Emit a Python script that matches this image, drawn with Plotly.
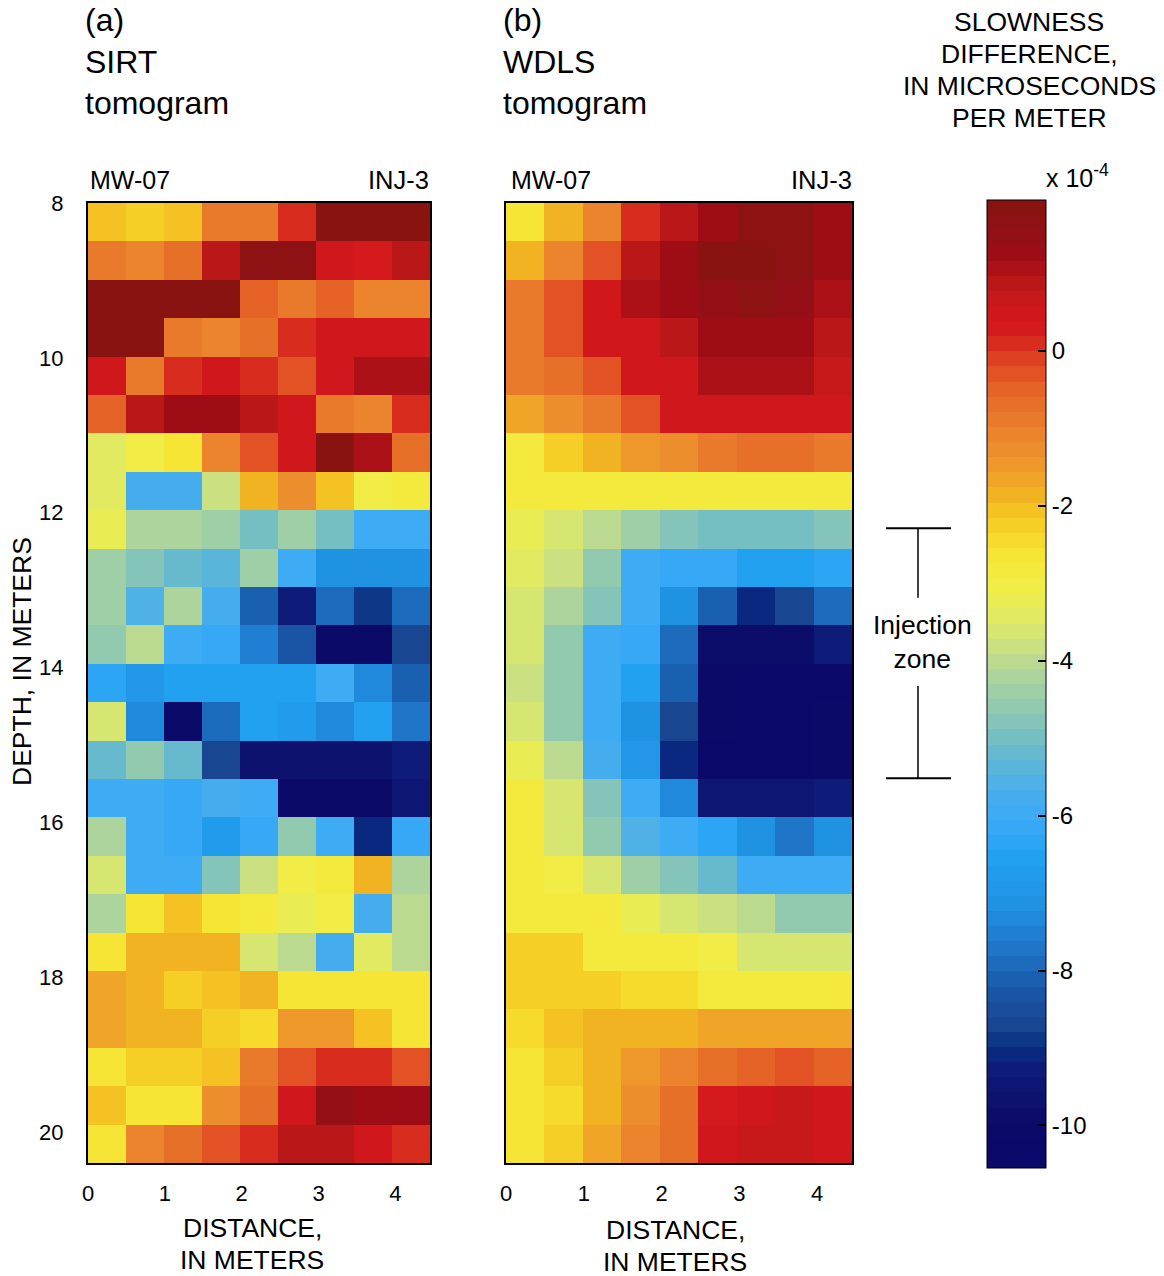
import numpy as np
import plotly.graph_objects as go

# ---------------- data (slowness difference, x 1e-4 microseconds per meter) -------------
distance_range = [0.0, 4.45]          # meters, 9 cells
depth_range = [8.0, 20.4]             # meters, 25 cells
n_cols = 9
n_rows = 25

sirt = [
    [-2.0, -2.2, -2.0, -0.8, -0.8, 0.1, 1.8, 1.8, 1.8],
    [-0.8, -1.0, -0.7, 0.9, 1.7, 1.7, 0.5, 0.2, 0.8],
    [1.8, 1.8, 1.8, 1.8, -0.4, -0.9, -0.4, -1.0, -1.0],
    [1.8, 1.8, -0.8, -1.1, -0.6, 0.1, 0.5, 0.5, 0.5],
    [0.5, -0.8, 0.0, 0.5, 0.0, -0.3, 0.4, 1.0, 1.0],
    [-0.4, 0.8, 1.3, 1.3, 0.9, 0.5, -0.9, -1.1, 0.1],
    [-3.5, -3.1, -2.6, -1.1, -0.3, 0.5, 1.8, 1.1, -0.7],
    [-3.5, -5.8, -5.8, -3.9, -1.9, -1.3, -2.1, -3.0, -2.9],
    [-3.2, -4.2, -4.2, -4.4, -4.9, -4.4, -5.0, -6.0, -6.0],
    [-4.4, -4.7, -5.2, -5.3, -4.4, -6.0, -7.2, -7.2, -7.2],
    [-4.4, -5.6, -4.3, -5.8, -8.1, -9.3, -8.0, -8.8, -8.0],
    [-4.6, -4.0, -6.0, -6.2, -7.6, -8.3, -10.0, -10.0, -8.6],
    [-6.4, -6.9, -6.5, -6.5, -6.5, -6.5, -6.0, -7.4, -8.1],
    [-3.6, -7.4, -10.0, -7.9, -6.5, -6.8, -7.4, -6.5, -7.7],
    [-5.2, -4.6, -5.1, -8.6, -9.7, -9.7, -9.7, -9.7, -9.2],
    [-6.0, -6.0, -6.1, -5.7, -6.0, -10.1, -10.1, -10.1, -9.4],
    [-4.2, -6.0, -6.2, -6.8, -6.1, -4.6, -5.9, -9.1, -6.2],
    [-3.7, -6.0, -6.0, -4.8, -3.9, -3.1, -2.8, -1.9, -4.2],
    [-4.3, -2.7, -2.1, -2.7, -2.9, -3.2, -3.0, -5.8, -4.1],
    [-2.6, -1.8, -1.8, -1.9, -3.6, -4.0, -5.8, -3.5, -4.1],
    [-1.6, -1.9, -2.2, -2.1, -1.9, -2.6, -2.6, -2.6, -2.6],
    [-1.6, -1.9, -1.9, -2.3, -2.5, -1.5, -1.5, -2.0, -2.6],
    [-2.7, -2.3, -2.3, -2.0, -0.8, -0.3, 0.0, 0.0, -0.3],
    [-2.0, -2.7, -2.6, -1.3, -0.7, 0.5, 1.4, 1.3, 1.2],
    [-2.7, -1.1, -0.7, -0.2, 0.0, 0.8, 0.8, 0.5, 0.1],
]

wdls = [
    [-2.7, -1.9, -1.0, 0.0, 0.8, 1.3, 1.6, 1.6, 1.3],
    [-1.8, -1.1, -0.3, 0.8, 1.3, 1.8, 1.8, 1.7, 1.3],
    [-0.9, -0.3, 0.5, 1.0, 1.3, 1.4, 1.6, 1.4, 1.0],
    [-0.8, -0.3, 0.5, 0.5, 0.8, 1.3, 1.3, 1.3, 0.8],
    [-0.9, -0.6, -0.3, 0.5, 0.5, 1.1, 1.1, 1.1, 0.7],
    [-1.7, -1.3, -0.9, -0.3, 0.5, 0.5, 0.5, 0.5, 0.5],
    [-2.8, -2.3, -1.8, -1.4, -1.2, -0.9, -0.7, -0.7, -0.9],
    [-2.8, -2.9, -2.9, -2.8, -2.8, -2.8, -2.8, -2.8, -2.8],
    [-3.3, -3.7, -4.0, -4.4, -4.7, -5.0, -5.0, -5.0, -4.8],
    [-3.4, -3.9, -4.6, -5.9, -6.2, -6.2, -6.5, -6.5, -6.3],
    [-3.6, -4.2, -4.8, -6.0, -7.1, -8.2, -9.1, -8.6, -7.9],
    [-3.7, -4.5, -6.0, -6.2, -7.9, -9.8, -9.8, -9.8, -9.2],
    [-3.9, -4.6, -6.0, -6.6, -8.2, -10.0, -10.2, -10.2, -10.2],
    [-3.6, -4.6, -6.0, -7.1, -8.6, -10.1, -10.2, -10.2, -10.0],
    [-3.2, -4.0, -5.8, -7.0, -9.1, -10.3, -10.2, -10.2, -10.1],
    [-2.8, -3.7, -4.8, -6.0, -7.4, -9.5, -9.5, -9.5, -9.3],
    [-2.8, -3.6, -4.5, -5.5, -6.0, -6.4, -7.2, -7.7, -7.1],
    [-2.8, -3.0, -3.7, -4.4, -4.7, -5.2, -5.9, -5.9, -5.9],
    [-2.8, -2.8, -2.8, -3.2, -3.6, -3.9, -4.1, -4.6, -4.6],
    [-2.3, -2.3, -2.8, -2.8, -2.8, -3.1, -3.6, -3.6, -3.6],
    [-2.2, -2.2, -2.2, -2.4, -2.4, -2.8, -2.8, -2.8, -2.8],
    [-2.4, -2.1, -1.9, -1.9, -1.9, -1.7, -1.7, -1.7, -1.7],
    [-2.7, -2.2, -1.9, -1.4, -1.1, -0.7, -0.5, -0.2, -0.5],
    [-2.7, -2.4, -1.9, -1.2, -0.6, 0.2, 0.5, 0.6, 0.5],
    [-2.7, -2.2, -1.6, -1.0, -0.6, 0.5, 0.7, 0.6, 0.5],
]

distance_ticks = [0, 1, 2, 3, 4]
depth_ticks = [8, 10, 12, 14, 16, 18, 20]
cbar_ticks = [0, -2, -4, -6, -8, -10]
cbar_range = [-10.55, 1.95]
injection_zone = [12.2, 15.43]    # depth, meters
injection_label_depth = 13.67     # depth of the "Injection zone" label
cbar_title_lines = ["SLOWNESS", "DIFFERENCE,", "IN MICROSECONDS", "PER METER"]
xlabel_lines = ["DISTANCE,", "IN METERS"]

# ---------------- colour map (64 banded levels) ----------------
anchors = [
    (1.95, "#861410"), (1.5, "#920f16"), (1.2, "#a20c16"), (0.9, "#b81818"),
    (0.6, "#cc1a1a"), (0.35, "#d4141e"), (0.05, "#d8301e"), (-0.2, "#e04a24"),
    (-0.5, "#e66428"), (-0.75, "#e8742a"), (-1.0, "#ea802c"), (-1.25, "#ec8c2e"),
    (-1.5, "#ee9a2c"), (-1.7, "#f0a828"), (-1.9, "#f2b622"), (-2.1, "#f4c622"),
    (-2.4, "#f6d82a"), (-2.7, "#f6e838"), (-3.0, "#f2ec44"), (-3.3, "#e8ec58"),
    (-3.6, "#d8e670"), (-3.9, "#c4de88"), (-4.2, "#acd49c"), (-4.5, "#98ccac"),
    (-4.8, "#84c4b8"), (-5.1, "#6cbcc8"), (-5.4, "#58b4dc"), (-5.7, "#48aeec"),
    (-6.0, "#3caaf6"), (-6.3, "#30a6f6"), (-6.6, "#20a0f0"), (-6.9, "#2298e8"),
    (-7.2, "#2090e0"), (-7.5, "#2080d4"), (-7.8, "#1e72c4"), (-8.1, "#1a60b0"),
    (-8.4, "#1a50a0"), (-8.7, "#184690"), (-9.0, "#0a2e84"), (-9.3, "#0e1a78"),
    (-9.6, "#0e1470"), (-9.9, "#0c0c6a"), (-10.2, "#0a0868"), (-10.55, "#0c0a6c"),
]
anchors = sorted(anchors)
av = np.array([a[0] for a in anchors])
ac = np.array([[int(c[1:3], 16), int(c[3:5], 16), int(c[5:7], 16)] for _, c in anchors])
n_levels = 64
lo, hi = cbar_range
colorscale = []
for i in range(n_levels):
    v = lo + (i + 0.5) * (hi - lo) / n_levels
    rgb = [int(round(np.interp(v, av, ac[:, k]))) for k in range(3)]
    col = "rgb(%d,%d,%d)" % tuple(rgb)
    colorscale.append([i / n_levels, col])
    colorscale.append([(i + 1) / n_levels, col])

# ---------------- figure ----------------
W, H = 1164, 1276
FONT = "Liberation Sans, Arial, sans-serif"
x_edges = np.linspace(distance_range[0], distance_range[1], n_cols + 1)
y_edges = np.linspace(depth_range[0], depth_range[1], n_rows + 1)

fig = go.Figure()
fig.add_trace(go.Heatmap(z=sirt, x=x_edges, y=y_edges, coloraxis="coloraxis",
                         xaxis="x", yaxis="y"))
fig.add_trace(go.Heatmap(z=wdls, x=x_edges, y=y_edges, coloraxis="coloraxis",
                         xaxis="x2", yaxis="y2"))


def px(xp):
    return xp / W


def py(yp):
    return 1 - yp / H


axis_common = dict(showline=True, mirror=True, linecolor="black", linewidth=2,
                   showgrid=False, zeroline=False, ticks="",
                   tickfont=dict(family=FONT, size=22, color="black"))

fig.update_layout(
    width=W, height=H,
    margin=dict(l=0, r=0, t=0, b=0, autoexpand=False),
    paper_bgcolor="white", plot_bgcolor="white",
    showlegend=False,
    xaxis=dict(domain=[px(88), px(430)], range=distance_range, tickvals=distance_ticks,
               anchor="y", ticklabelstandoff=10, **axis_common),
    yaxis=dict(domain=[py(1163), py(203)], range=depth_range[::-1], tickvals=depth_ticks,
               anchor="x", ticklabelstandoff=18, **axis_common),
    xaxis2=dict(domain=[px(506), px(852)], range=distance_range, tickvals=distance_ticks,
                anchor="y2", ticklabelstandoff=10, **axis_common),
    yaxis2=dict(domain=[py(1163), py(203)], range=depth_range[::-1], tickvals=depth_ticks,
                showticklabels=False, anchor="x2", **axis_common),
    coloraxis=dict(
        colorscale=colorscale, cmin=cbar_range[0], cmax=cbar_range[1],
        colorbar=dict(
            x=px(987), xanchor="left",
            y=py(200), yanchor="top",
            len=968, lenmode="pixels", thickness=59, thicknessmode="pixels",
            xpad=0, ypad=0, outlinewidth=1, outlinecolor="black",
            tickvals=cbar_ticks, ticktext=[str(t) for t in cbar_ticks],
            ticks="inside", ticklen=8, tickcolor="black", tickwidth=1.5,
            tickfont=dict(family=FONT, size=24, color="black"),
        ),
    ),
)

ann = []


def add_text(text, x, y, size, xanchor="left", yanchor="middle", align="left", **kw):
    ann.append(dict(text=text, x=x, y=y, xref="paper", yref="paper", showarrow=False,
                    xanchor=xanchor, yanchor=yanchor, align=align,
                    font=dict(family=FONT, size=size, color="black"), **kw))


add_text("(a)<br>SIRT<br>tomogram", px(83), py(0), 32, yanchor="top")
add_text("(b)<br>WDLS<br>tomogram", px(501), py(0), 32, yanchor="top")
for i, t in enumerate(cbar_title_lines):
    add_text(t, px(1029), py(22 + 32 * i), 26.5, xanchor="center", align="center")
add_text("x 10<sup>-4</sup>", px(1044), py(176), 25)
add_text("MW-07", px(88), py(180), 25)
add_text("INJ-3", px(431), py(180), 25.5, xanchor="right")
add_text("MW-07", px(509), py(180), 25)
add_text("INJ-3", px(854), py(180), 25.5, xanchor="right")
for i, t in enumerate(xlabel_lines):
    add_text(t, px(252), py(1228 + 32 * i), 26.5, xanchor="center", align="center")
    add_text(t, px(675), py(1230 + 32 * i), 26.5, xanchor="center", align="center")
add_text("DEPTH, IN METERS", px(22), py(662), 26.5, xanchor="center", textangle=-90)

# Injection zone bracket
ann.append(dict(text="Injection<br>zone", x=px(922), y=injection_label_depth, xref="paper",
                yref="y2", showarrow=False, xanchor="center", yanchor="middle",
                align="center", font=dict(family=FONT, size=26.5, color="black")))
fig.update_layout(annotations=ann)

gap = 0.57
line = dict(color="black", width=1.5)
shapes = [
    dict(type="line", xref="paper", yref="y2", x0=px(886), x1=px(951),
         y0=injection_zone[0], y1=injection_zone[0], line=dict(color="black", width=2)),
    dict(type="line", xref="paper", yref="y2", x0=px(886), x1=px(951),
         y0=injection_zone[1], y1=injection_zone[1], line=dict(color="black", width=2)),
    dict(type="line", xref="paper", yref="y2", x0=px(918), x1=px(918),
         y0=injection_zone[0], y1=injection_label_depth - gap, line=line),
    dict(type="line", xref="paper", yref="y2", x0=px(918), x1=px(918),
         y0=injection_label_depth + gap, y1=injection_zone[1], line=line),
]
fig.update_layout(shapes=shapes)

# remove the default 8px page margin so the figure fills the window exactly
fig.write_html("out.html",
               config={"displayModeBar": False},
               post_script="document.body.style.margin='0px';"
                           "document.body.style.overflow='hidden';")
